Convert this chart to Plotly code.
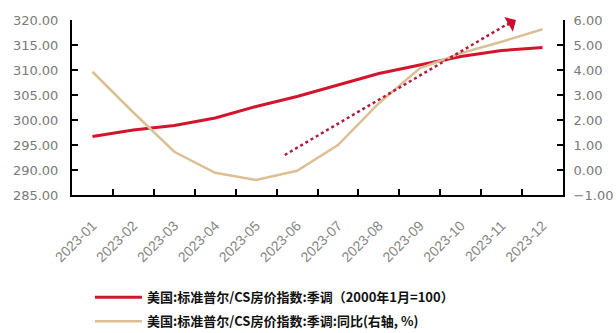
import plotly.graph_objects as go

months = ["2023-01", "2023-02", "2023-03", "2023-04", "2023-05", "2023-06",
          "2023-07", "2023-08", "2023-09", "2023-10", "2023-11", "2023-12"]
# S&P/CS home price index, seasonally adjusted (Jan 2000 = 100)
cs_index = [296.7, 298.0, 298.9, 300.4, 302.7, 304.7,
            307.0, 309.3, 311.0, 312.7, 313.9, 314.5]
# Year-over-year change, % (right axis)
cs_yoy = [3.93, 2.30, 0.73, -0.11, -0.40, -0.03,
          1.00, 2.67, 4.07, 4.67, 5.13, 5.63]

name_index = "美国:标准普尔/CS房价指数:季调（2000年1月=100）"
name_yoy = "美国:标准普尔/CS房价指数:季调:同比(右轴, %)"

fig = go.Figure()
fig.add_trace(go.Scatter(
    x=months, y=cs_index, name=name_index, mode="lines", legendgroup="a",
    line=dict(color="#d4142c", width=3), yaxis="y"))
fig.add_trace(go.Scatter(
    x=months, y=cs_yoy, name=name_yoy, mode="lines", legendgroup="b",
    line=dict(color="#dcbf94", width=2.5), yaxis="y2"))

# dotted trend arrow
fig.add_shape(type="line", xref="x", yref="y",
              x0=4.7, y0=293.0, x1=10.25, y1=319.7,
              line=dict(color="#b01c3c", width=2.5, dash="dot"))
fig.add_annotation(xref="x", yref="y", x=10.35, y=320.0,
                   ax=10.1, ay=318.8, axref="x", ayref="y",
                   text="", showarrow=True, arrowhead=1, arrowsize=1.3,
                   arrowwidth=2.2, arrowcolor="#c8102e")

tick_font = dict(family="DejaVu Sans, sans-serif", size=13, color="#7a7a7a")

fig.update_layout(
    width=616, height=333,
    margin=dict(l=72, r=53, t=20, b=138, autoexpand=False),
    paper_bgcolor="white", plot_bgcolor="white",
    showlegend=True,
    legend=dict(orientation="v", xref="container", yref="container",
                x=0.146, y=0.152, xanchor="left", yanchor="top",
                font=dict(family="Noto Sans CJK SC", size=13, color="#111111",
                          weight="bold"),
                tracegroupgap=4, itemwidth=47, bgcolor="rgba(0,0,0,0)"),
    xaxis=dict(type="category", range=[-0.5, 11.5], automargin=False,
               showline=True, linecolor="black", linewidth=2,
               ticks="inside", tickson="boundaries", ticklen=6, tickcolor="black",
               tickwidth=2, tickangle=-45, ticklabelstandoff=15,
               showgrid=False, zeroline=False,
               tickfont=dict(family="Liberation Sans, Arial, sans-serif", size=14, color="#858585")),
    yaxis=dict(range=[285, 320], dtick=5, tickformat=".2f", showline=True,
               automargin=False, ticklabelstandoff=9,
               linecolor="black", linewidth=2, ticks="inside", ticklen=6,
               tickcolor="black", tickwidth=2, showgrid=False, zeroline=False,
               tickfont=tick_font),
    yaxis2=dict(range=[-1, 6], dtick=1, tickformat=".2f", overlaying="y", side="right",
                automargin=False, ticklabelstandoff=6,
                showline=True, linecolor="black", linewidth=2, ticks="inside",
                ticklen=6, tickcolor="black", tickwidth=2, showgrid=False,
                zeroline=False, tickfont=tick_font),
)

fig.write_html("out.html")
